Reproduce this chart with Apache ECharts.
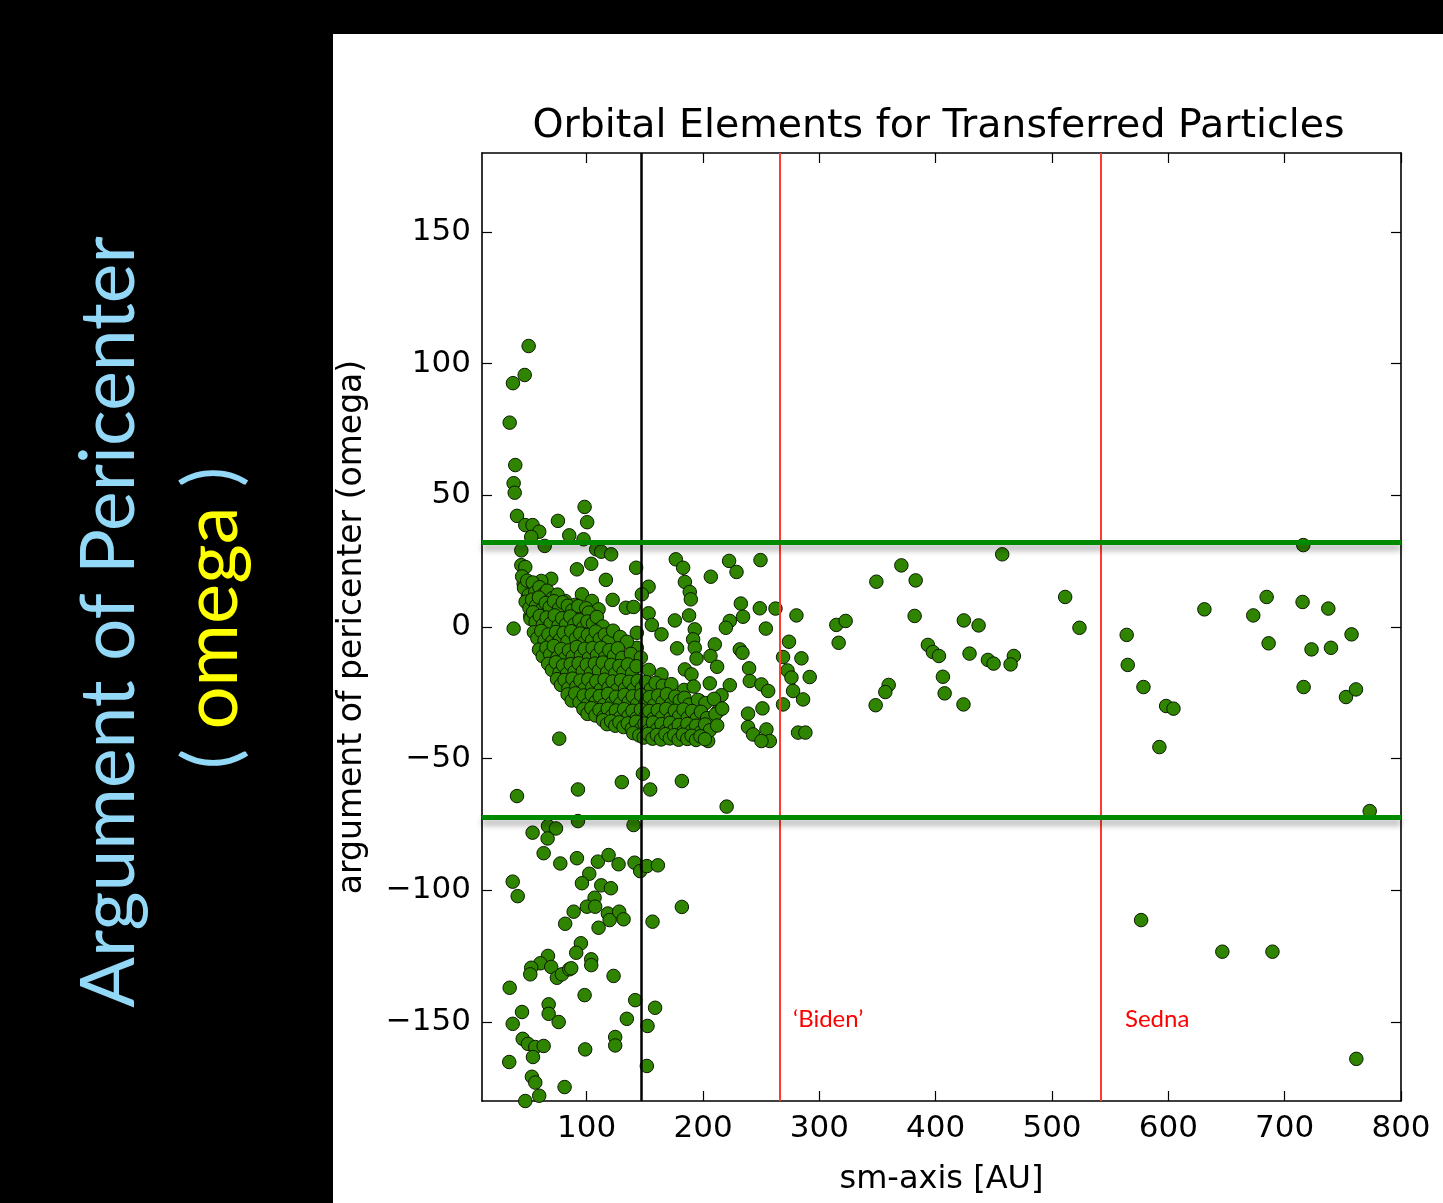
<!DOCTYPE html>
<html><head><meta charset="utf-8">
<script src="https://cdn.jsdelivr.net/npm/echarts@6/dist/echarts.min.js"></script>
<style>html,body{margin:0;padding:0;background:#000}#c{width:1443px;height:1203px}</style>
</head><body><div id="c"></div>
<script>
// ---- axis / reference values ----
const xTicks = [100, 200, 300, 400, 500, 600, 700, 800];
const yTicks = [-150, -100, -50, 0, 50, 100, 150];
const xRange = [10, 800];
const yRange = [-180, 180];
const blackLineX = [147];
const redLinesX = [266, 541.5];
const greenLinesY = [32, -72.3];
const redLabels = ['\u2018Biden\u2019', 'Sedna'];

// ---- scattered particles (sm-axis AU, omega deg) ----
const upperLeftPts = [[50.1,106.7],[46.7,95.7],[36.6,92.6],[33.8,77.6],[38.6,61.5],[37.2,54.6],[38.1,51.0],[40.1,42.2],[47.2,38.7],[53.5,38.7],[59.2,36.2],[52.3,34.2],[75.3,40.3],[98.2,45.6],[100.4,39.8],[85.0,34.8],[97.3,33.3],
[63.9,30.8],[43.8,29.1],[108.2,29.5],[112.5,28.6],[121.0,27.6],[43.8,23.5],[47.2,22.8],[91.6,21.9],[103.9,24.0],[142.5,22.5],[116.5,17.9],[69.5,18.3],[60.9,17.5],[45.8,16.4],[52.3,15.2],[49.5,11.8],[57.2,10.7],[95.9,12.4],[81.5,9.9],[104.5,9.9],[122.3,10.3],[153.2,15.3],[147.4,12.4],[133.7,7.3],[140.3,7.6],[62.4,6.7],[90.1,8.4],[110.2,6.7],[37.2,-0.6],[51.5,4.2],[153.2,5.2],[156.0,0.8],[143.1,-2.2],[143.1,-7.9]];

const middlePts = [[176.6,25.7],[182.9,22.5],[222.4,25.1],[249.4,25.4],[228.8,20.9],[206.7,19.1],[184.4,17.1],[188.6,13.3],[189.5,10.5],[232.5,8.9],[248.8,7.1],[262.3,7.0],[280.3,4.4],[234.4,3.9],[223.0,2.3],[219.6,-0.3],[188.0,4.4],[175.8,2.5],[254.0,-0.6],[164.3,-2.8],[192.9,-0.9],[191.5,-4.7],[210.1,-6.6],[231.6,-8.5],[233.9,-9.8],[273.9,-5.6],[177.7,-8.1],[192.9,-7.9],[268.8,-11.4],[284.6,-11.9],[206.4,-11.0],[194.4,-12.0],[212.1,-15.1],[239.6,-15.7],[272.6,-16.5],[276.0,-19.2],[291.7,-19.0],[240.2,-20.5],[164.3,-18.0],[184.4,-16.1],[190.1,-18.0],[205.8,-21.4],[223.0,-22.1],[250.2,-21.8],[256.0,-24.3],[277.4,-24.3],[286.0,-27.5],[268.8,-29.4],[251.1,-30.9],[215.9,-25.9],[213.0,-31.9],[197.2,-28.1],[238.7,-32.9],[238.7,-38.0],[243.0,-40.8],[254.5,-38.9],[257.4,-43.3],[250.2,-43.3],[281.7,-40.1],[288.0,-40.1],[204.4,-43.3],[194.4,-39.8],[178.6,-40.1]];

const farPts = [[457.2,27.6],[370.5,23.4],[349.0,17.2],[382.8,17.7],[511.3,11.4],[523.6,-0.3],[314.6,0.8],[322.6,2.3],[316.6,-6.0],[381.9,4.2],[424.2,2.5],[436.9,0.6],[393.3,-6.8],[397.6,-9.5],[402.8,-11.0],[429.1,-10.1],[444.9,-12.5],[449.8,-13.9],[467.2,-11.0],[464.4,-14.2],[406.2,-18.9],[407.7,-25.2],[423.9,-29.4],[359.6,-22.0],[356.7,-24.7],[348.4,-29.7],
[716.0,31.1],[684.5,11.4],[715.4,9.5],[737.5,7.0],[631.0,6.7],[673.0,4.4],[564.2,-3.0],[757.5,-2.8],[686.2,-6.2],[723.1,-8.5],[739.8,-7.9],[565.1,-14.4],[578.6,-22.8],[598.1,-30.0],[604.4,-31.0],[592.3,-45.6],[716.3,-22.8],[752.7,-26.6],[761.3,-23.7],
[220.3,-68.2],[773.1,-69.9],[576.6,-111.3],[646.4,-123.3],[689.5,-123.3],[761.6,-164.0]];

const lowerPts = [[76.4,-42.4],[40.1,-64.2],[92.5,-61.7],[130.2,-58.9],[148.3,-55.7],[154.6,-61.7],[181.8,-58.5],[92.5,-73.7],[140.3,-75.2],[66.7,-75.6],[73.6,-76.5],[53.5,-78.1],[66.4,-80.3],[63.0,-85.9],[77.3,-89.8],[91.6,-87.8],[109.6,-89.1],[118.8,-86.6],[127.4,-90.1],[141.1,-89.5],[146.0,-92.7],[151.7,-90.8],[161.2,-90.5],[102.2,-93.7],[95.9,-97.3],[112.5,-98.1],[120.8,-99.2],[106.8,-102.8],[100.2,-106.2],[107.3,-106.2],[118.2,-108.8],[119.7,-111.3],[127.9,-108.1],[131.7,-111.0],[110.2,-114.2],[88.8,-108.1],[81.5,-112.7],[36.4,-96.7],[40.7,-102.2],[156.6,-111.9],[181.8,-106.3],[95.0,-120.1],[91.0,-123.7],[66.7,-124.9],[60.1,-127.7],[52.3,-129.4],[69.5,-129.1],[51.5,-131.9],[74.4,-133.2],[78.7,-131.9],[85.0,-130.0],[86.7,-129.6],[103.9,-126.2],[103.9,-128.4],[123.1,-132.5],[33.8,-137.0],[98.2,-139.8],[141.7,-141.7],[158.8,-144.6],[44.4,-146.2],[67.3,-143.3],[67.3,-146.9],[75.9,-150.0],[36.4,-150.7],[134.5,-148.8],[152.3,-151.5],[45.0,-156.4],[49.5,-158.3],[55.8,-159.5],[63.0,-159.1],[53.8,-163.3],[33.4,-165.2],[98.7,-160.4],[124.5,-155.7],[124.5,-158.9],[151.7,-166.7],[52.9,-170.8],[81.0,-174.7],[55.8,-173.0],[59.2,-178.0],[47.2,-180.0]];

// dense crescent, read band by band (omega bands from top to bottom)
const clusterBandA = [[44.5,19.2],[46.1,14.8],[48.9,17.6],[50.2,12.1],[53.6,16.9],[55.8,13.2],[59.4,15.1],[62.7,12.4],[66.0,13.8],[70.8,11.0],[74.9,12.3]];
const clusterBandB = [[47.5,9.6],[50.8,7.2],[53.1,10.4],[56.4,8.0],[58.9,11.2],[61.5,6.6],[64.8,9.1],[68.2,7.5],[71.9,9.8],[76.3,7.0],[79.5,9.4],[83.8,8.1],[87.6,6.3],[92.8,7.9],[99.5,7.1],[101.8,5.5]];
const clusterBandC = [[51.7,3.1],[53.9,5.6],[56.1,1.9],[59.7,4.2],[62.3,0.8],[65.6,3.6],[68.9,1.2],[72.5,4.4],[75.8,0.5],[78.9,3.3],[82.4,1.0],[85.9,4.0],[89.3,0.9],[93.7,2.6],[97.1,-0.2],[100.6,2.1],[105.4,1.3],[108.7,3.8],[113.9,0.2]];
const clusterBandD = [[54.6,-2.0],[57.6,-4.3],[60.9,-1.5],[63.8,-5.1],[67.1,-2.8],[70.3,-5.6],[73.6,-1.9],[77.0,-4.8],[80.2,-2.2],[83.5,-5.5],[86.7,-1.6],[90.8,-4.4],[94.4,-2.5],[97.9,-5.8],[101.1,-3.0],[104.6,-5.1],[107.7,-1.7],[111.3,-4.6],[115.6,-2.9],[118.9,-5.5],[122.7,-1.4],[128.8,-3.8],[134.6,-5.6]];
const clusterBandE = [[59.0,-8.6],[62.2,-11.1],[65.4,-7.9],[68.6,-10.4],[71.7,-7.2],[74.8,-11.6],[78.1,-8.4],[81.4,-11.9],[84.8,-8.9],[88.0,-11.3],[91.5,-7.6],[94.9,-10.9],[98.3,-8.3],[101.9,-11.8],[105.1,-8.0],[108.9,-10.7],[112.4,-7.9],[116.0,-11.5],[119.5,-8.8],[123.4,-11.0],[126.8,-8.1],[130.6,-11.7],[138.0,-10.2],[146.5,-11.6]];
const clusterBandF = [[66.9,-14.0],[70.1,-16.3],[73.5,-13.4],[76.6,-17.4],[79.8,-14.6],[83.1,-17.8],[86.2,-14.1],[89.6,-17.0],[93.1,-13.8],[96.6,-16.9],[100.0,-14.3],[103.6,-17.5],[107.0,-13.9],[110.5,-16.6],[113.8,-13.5],[117.6,-17.2],[121.1,-14.4],[124.6,-17.7],[128.1,-14.8],[131.7,-17.1],[135.4,-14.2],[139.1,-17.6],[142.8,-14.9],[153.4,-16.3]];
const clusterBandG = [[74.5,-19.8],[77.9,-22.0],[81.0,-20.1],[84.3,-23.3],[87.8,-19.6],[91.1,-22.7],[94.6,-20.3],[98.0,-23.6],[101.4,-19.9],[104.8,-22.9],[108.3,-20.6],[111.9,-23.8],[115.4,-20.0],[118.8,-23.1],[122.3,-20.7],[125.9,-23.9],[129.5,-20.2],[133.0,-23.4],[136.6,-20.8],[140.2,-23.7],[143.9,-20.4],[147.4,-23.2],[151.0,-20.9],[155.1,-23.6],[159.3,-21.2],[165.4,-22.3],[172.8,-21.7],[183.7,-23.9],[192.0,-22.6]];
const clusterBandH = [[83.6,-25.6],[87.1,-27.9],[90.2,-25.2],[93.8,-28.6],[97.4,-26.0],[100.9,-29.3],[104.3,-25.7],[107.8,-28.4],[111.2,-26.2],[114.9,-29.6],[118.4,-25.4],[121.8,-28.8],[125.3,-26.5],[128.9,-29.1],[132.5,-25.8],[136.1,-28.5],[139.6,-26.3],[143.3,-29.4],[146.9,-25.9],[150.6,-28.9],[154.2,-26.6],[157.9,-29.7],[161.5,-26.0],[165.2,-28.6],[168.9,-25.5],[172.5,-29.2],[176.2,-26.4],[180.0,-28.0],[184.1,-26.9],[188.2,-29.5],[195.6,-27.7],[202.1,-28.9],[209.4,-27.3]];
const clusterBandI = [[97.2,-31.2],[100.7,-33.0],[104.0,-30.8],[107.5,-33.6],[111.0,-31.5],[114.6,-34.1],[118.1,-31.0],[121.6,-33.8],[125.1,-31.7],[128.7,-34.4],[132.2,-31.2],[135.8,-33.9],[139.4,-31.8],[143.0,-34.6],[146.6,-31.4],[150.2,-34.2],[153.9,-31.9],[157.5,-34.8],[161.1,-31.6],[164.8,-34.3],[168.4,-31.1],[172.1,-34.7],[175.8,-31.8],[179.4,-34.0],[183.2,-31.3],[186.9,-34.5],[190.6,-31.9],[194.4,-34.9],[198.2,-32.2],[203.5,-34.6],[210.7,-33.1],[216.5,-31.0]];
const clusterBandJ = [[114.0,-35.4],[117.5,-36.9],[121.0,-35.8],[124.6,-37.5],[128.1,-36.2],[131.7,-38.0],[135.3,-36.6],[138.9,-38.6],[142.5,-36.0],[146.1,-38.9],[149.7,-36.7],[153.4,-39.3],[157.0,-36.3],[160.7,-38.8],[164.3,-36.9],[168.0,-39.6],[171.7,-36.4],[175.4,-39.0],[179.1,-37.2],[182.8,-39.8],[186.6,-36.8],[190.3,-39.4],[194.1,-37.5],[197.9,-40.0],[201.8,-37.0],[205.9,-39.2],[212.2,-37.4]];
const clusterBandK = [[140.0,-40.3],[145.2,-41.2],[149.0,-42.0],[152.8,-40.6],[156.6,-42.4],[160.3,-41.0],[164.0,-42.7],[167.7,-40.7],[171.5,-42.3],[175.2,-41.1],[179.0,-42.8],[182.7,-40.9],[186.5,-42.5],[190.2,-41.3],[194.0,-42.9],[197.8,-41.5],[201.6,-42.6]];

// ---- build ----
const allPts = [].concat(upperLeftPts, middlePts, farPts, lowerPts,
  clusterBandA, clusterBandB, clusterBandC, clusterBandD, clusterBandE, clusterBandF,
  clusterBandG, clusterBandH, clusterBandI, clusterBandJ, clusterBandK);

const chart = echarts.init(document.getElementById('c'), null, {renderer: 'canvas', width: 1443, height: 1203});
const G = {left: 482, top: 153, width: 919, height: 948};
const tickFont = {fontFamily: 'DejaVu Sans', fontSize: 31, color: '#000'};
const axLine = {show: true, onZero: false, lineStyle: {color: '#000', width: 1.6}};
const fmtY = v => v < 0 ? '\u2212' + (-v) : String(v);

function xAx(pos, showLbl) {
  return {type: 'value', min: xRange[0], max: xRange[1], position: pos,
    axisLine: axLine,
    axisTick: {show: true, inside: true, length: 10, customValues: xTicks, lineStyle: {color: '#000', width: 1.2}},
    axisLabel: Object.assign({show: showLbl, customValues: xTicks, margin: 12}, tickFont),
    splitLine: {show: false}};
}
function yAx(pos, showLbl) {
  return {type: 'value', min: yRange[0], max: yRange[1], position: pos,
    axisLine: axLine,
    axisTick: {show: true, inside: true, length: 10, customValues: yTicks, lineStyle: {color: '#000', width: 1.2}},
    axisLabel: Object.assign({show: showLbl, customValues: yTicks, margin: 11, formatter: fmtY}, tickFont),
    splitLine: {show: false}};
}

const lineData = [];
blackLineX.forEach(v => lineData.push({xAxis: v, lineStyle: {color: '#000', width: 2.5, type: 'solid'}}));
redLinesX.forEach(v => lineData.push({xAxis: v, lineStyle: {color: '#ff3b30', width: 2, type: 'solid'}}));
greenLinesY.forEach(v => lineData.push({yAxis: v, lineStyle: {color: '#008a00', width: 5, type: 'solid', shadowColor: 'rgba(0,0,0,0.35)', shadowBlur: 6, shadowOffsetY: 5}}));

const option = {
  backgroundColor: '#000',
  animation: false,
  grid: Object.assign({containLabel: false}, G),
  xAxis: [xAx('bottom', true), xAx('top', false)],
  yAxis: [yAx('left', true), yAx('right', false)],
  graphic: [
    {type: 'rect', z: -10, silent: true, shape: {x: 333, y: 34, width: 1110, height: 1169}, style: {fill: '#fff'}},
    {type: 'text', x: 938.5, y: 127, style: {text: 'Orbital Elements for Transferred Particles', font: '39.5px "DejaVu Sans"', fill: '#000', textAlign: 'center', textVerticalAlign: 'middle'}},
    {type: 'text', x: 941.5, y: 1180, style: {text: 'sm-axis [AU]', font: '32px "DejaVu Sans"', fill: '#000', textAlign: 'center', textVerticalAlign: 'middle'}},
    {type: 'text', x: 352, y: 627, rotation: Math.PI / 2, style: {text: 'argument of pericenter (omega)', font: '33px "DejaVu Sans"', fill: '#000', textAlign: 'center', textVerticalAlign: 'middle'}},
    {type: 'text', x: 110, y: 622, rotation: Math.PI / 2, style: {text: 'Argument of Pericenter', font: '75px Lato', fill: '#93d9f7', textAlign: 'center', textVerticalAlign: 'middle'}},
    {type: 'text', x: 212, y: 618, rotation: Math.PI / 2, style: {text: '{b|( }{y|omega}{b| )}', textAlign: 'center', textVerticalAlign: 'middle',
      rich: {b: {font: '76px Lato', fill: '#93d9f7'}, y: {font: '76px Lato', fill: '#ffff00'}}}},
    {type: 'text', x: 793, y: 1019, style: {text: redLabels[0], font: '24px Lato', fill: '#ff0000', textAlign: 'left', textVerticalAlign: 'middle'}},
    {type: 'text', x: 1125, y: 1019, style: {text: redLabels[1], font: '24px Lato', fill: '#ff0000', textAlign: 'left', textVerticalAlign: 'middle'}}
  ],
  series: [
    {type: 'scatter', data: allPts, symbolSize: 13.5, clip: true, z: 2,
     itemStyle: {color: '#2f8500', borderColor: '#0a1a00', borderWidth: 1, opacity: 1}},
    {type: 'scatter', data: [], z: 10,
     markLine: {silent: true, symbol: ['none', 'none'], label: {show: false}, animation: false, data: lineData}}
  ]
};
chart.setOption(option);
</script></body></html>
